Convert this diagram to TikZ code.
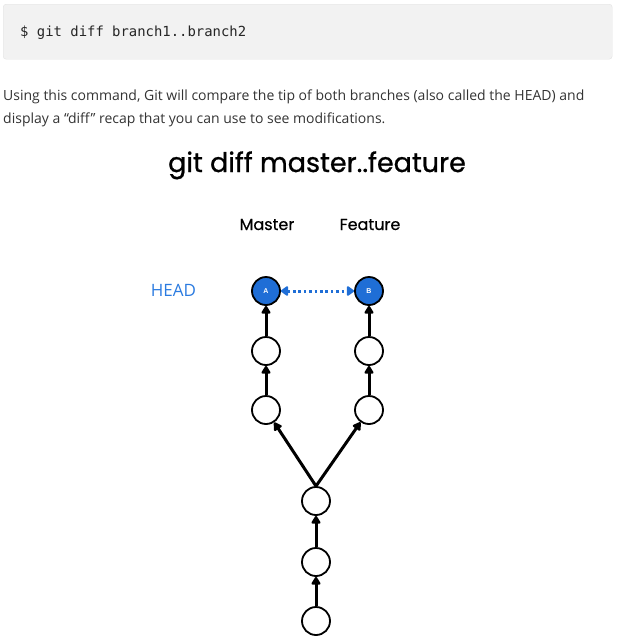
\documentclass[tikz,border=0pt]{standalone}
\usepackage{fontspec}
\setmainfont{Open Sans}
\newfontfamily\codefont{DejaVu Sans Mono}
\newfontfamily\titlefont{Poppins}[RawFeature={embolden=0.9}]
\newfontfamily\branchfont{Poppins}[RawFeature={embolden=0.4}]
\newfontfamily\labelfont{Liberation Sans}
\usetikzlibrary{arrows.meta}
\definecolor{codebg}{HTML}{F2F2F2}
\definecolor{codeborder}{HTML}{E2E2E2}
\definecolor{bodytext}{HTML}{333333}
\definecolor{headblue}{HTML}{2B7BE0}
\definecolor{nodeblue}{HTML}{1F6ED6}
\begin{document}
\begin{tikzpicture}[x=1pt,y=-1pt,
  commit/.style={circle,draw=black,line width=1.8pt,minimum size=28pt,inner sep=0pt,fill=white},
  tipcommit/.style={commit,fill=nodeblue,text=white,font=\labelfont\bfseries\fontsize{7}{7}\selectfont},
  parent/.style={line width=3pt,-{Triangle[length=9pt,width=10pt,round]}},
  difflink/.style={nodeblue,line width=3pt,dash pattern=on 2.6pt off 2.8pt,
    {Triangle[length=8pt,width=11pt,round]}-{Triangle[length=8pt,width=11pt,round]}},
  bodyline/.style={anchor=base west,inner sep=0pt,text=bodytext,font=\fontsize{14}{14}\selectfont},
  branchlabel/.style={anchor=base,inner sep=0pt,font=\branchfont\fontsize{16}{16}\selectfont}
]
\useasboundingbox (0,0) rectangle (620,643);
\node[draw=codeborder,fill=codebg,rounded corners=3pt,minimum width=609pt,minimum height=55pt,anchor=north west,inner sep=0pt] (code) at (3,4) {};
\node[anchor=base west,inner sep=0pt,font=\codefont\fontsize{13.9}{13.9}\selectfont,text=black!85] (cmd) at (20,36) {\$ git diff branch1..branch2};
\node[bodyline] (p1) at (3,100) {Using this command, Git will compare the tip of both branches (also called the HEAD) and};
\node[bodyline] (p2) at (3,123) {display a “diff” recap that you can use to see modifications.};
\node[anchor=base,inner sep=0pt,font=\titlefont\fontsize{27}{27}\selectfont] (title) at (317,172) {git diff master..feature};
\node[branchlabel] (lmaster) at (267,230) {Master};
\node[branchlabel] (lfeature) at (370,230) {Feature};
\node[anchor=base,inner sep=0pt,text=headblue,font=\fontsize{17}{17}\selectfont] (head) at (173.5,296) {HEAD};
\node[tipcommit] (A) at (266,291) {A};
\node[tipcommit] (B) at (369,291) {B};
\node[commit] (m1) at (266,351) {};
\node[commit] (m2) at (266,410) {};
\node[commit] (f1) at (369,351) {};
\node[commit] (f2) at (369,410) {};
\node[commit] (c1) at (316,501) {};
\node[commit] (c2) at (316,562) {};
\node[commit] (c3) at (316,621) {};
\draw[parent] (m1) -- (A);
\draw[parent] (m2) -- (m1);
\draw[parent] (f1) -- (B);
\draw[parent] (f2) -- (f1);
\draw[parent] (c1.north) -- (m2);
\draw[parent] (c1.north) -- (f2);
\draw[parent] (c2) -- (c1);
\draw[parent] (c3) -- (c2);
\draw[difflink] (A) -- (B);
\end{tikzpicture}
\end{document}
